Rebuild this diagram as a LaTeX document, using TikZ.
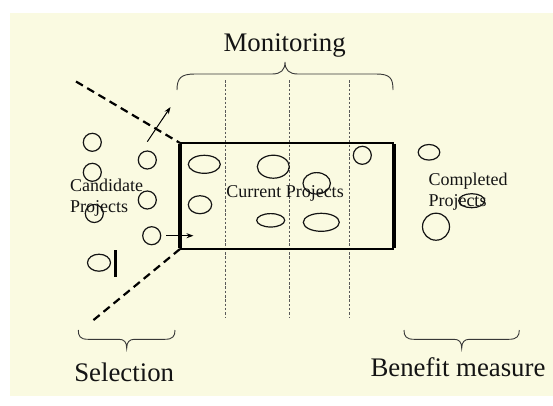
\documentclass[tikz,border=0pt]{standalone}
\usepackage{fontspec}
\setmainfont{Liberation Serif}
\usetikzlibrary{arrows.meta}
\definecolor{cream}{RGB}{250,250,225}
\definecolor{ink}{RGB}{20,20,20}
\tikzset{
  proj/.style={draw=ink, line width=1.2pt},
  bigtxt/.style={inner sep=0pt, text=ink, font=\fontsize{26.8}{30}\selectfont},
  smalltxt/.style={inner sep=0pt, text=ink, font=\fontsize{18}{20.5}\selectfont},
  bracestyle/.style={draw=ink!85, line width=0.9pt},
  bound/.style={draw=black, line width=2.2pt, dash pattern=on 8pt off 5pt},
  phase/.style={draw=black!65, line width=0.8pt, dash pattern=on 2.5pt off 1.8pt},
  arr/.style={draw=black, line width=1pt, -{Stealth[length=7pt,width=5pt]}}
}
\begin{document}
\begin{tikzpicture}[x=1pt,y=-1pt]
\useasboundingbox (0,0) rectangle (553,405);
\fill[white] (0,0) rectangle (553,405);
\fill[cream] (10,13) rectangle (553,396);

% phase separators
\coordinate (p1t) at (225.7,80); \coordinate (p1b) at (225.7,317);
\coordinate (p2t) at (289.3,80); \coordinate (p2b) at (289.3,317);
\coordinate (p3t) at (349.5,80); \coordinate (p3b) at (349.5,317);
\draw[phase] (p1t) -- (p1b);
\draw[phase] (p2t) -- (p2b);
\draw[phase] (p3t) -- (p3b);

% current projects box
\coordinate (tl) at (180,143);
\coordinate (tr) at (394,143);
\coordinate (bl) at (180,249);
\coordinate (br) at (394,249);
\draw[black, line width=2pt] (tl) -- (tr) (bl) -- (br);
\draw[black, line width=4pt] ([yshift=-1pt]tl) -- ([yshift=1pt]bl);
\draw[black, line width=4pt] ([yshift=-1pt]tr) -- ([yshift=1pt]br);

% selection boundary
\coordinate (ustart) at (76,81.5);
\coordinate (lend) at (92.7,320.7);
\draw[bound] (ustart) -- (tl);
\draw[bound] (bl) -- (lend);

% candidate projects
\draw[proj] (92.3,142.3) circle[radius=9pt];
\draw[proj] (92.3,172.3) circle[radius=9pt];
\draw[proj] (147.3,160) circle[radius=9pt];
\draw[proj] (147.3,200) circle[radius=9pt];
\draw[proj] (94.3,213.5) circle[radius=9pt];
\draw[proj] (151.7,235.7) circle[radius=9pt];
\draw[proj] (99,262.7) ellipse[x radius=11.5pt, y radius=8.5pt];
\coordinate (bart) at (115.3,250); \coordinate (barb) at (115.3,277);
\draw[black, line width=3.2pt] (bart) -- (barb);
\node[smalltxt, anchor=base west] (cand1) at (70,191.7) {Candidate};
\node[smalltxt, anchor=base west] (cand2) at (70,212.7) {Projects};

% arrows
\coordinate (a1s) at (147.3,141.7); \coordinate (a1e) at (170.5,107);
\draw[arr] (a1s) -- (a1e);
\coordinate (a2s) at (166,235.7); \coordinate (a2e) at (193.5,235.7);
\draw[arr] (a2s) -- (a2e);

% current projects
\draw[proj] (204.3,164.3) ellipse[x radius=16pt, y radius=9pt];
\draw[proj] (273.3,166.7) ellipse[x radius=16pt, y radius=11.5pt];
\draw[proj] (362.3,155.3) circle[radius=9pt];
\draw[proj] (316.7,183.3) ellipse[x radius=13.7pt, y radius=10.7pt];
\draw[proj] (200,204.7) ellipse[x radius=11.7pt, y radius=9pt];
\draw[proj] (270.7,220.3) ellipse[x radius=14pt, y radius=6.7pt];
\draw[proj] (321.3,222.3) ellipse[x radius=18pt, y radius=9pt];
\node[smalltxt, anchor=base] (cur) at (285,197.7) {Current Projects};

% completed projects
\draw[proj] (429,152.3) ellipse[x radius=10.8pt, y radius=7.8pt];
\draw[proj] (471.7,200.7) ellipse[x radius=13pt, y radius=7pt];
\draw[proj] (436,226.7) circle[radius=13.5pt];
\node[smalltxt, anchor=base west] (comp1) at (428.3,185.7) {Completed};
\node[smalltxt, anchor=base west] (comp2) at (428.3,206) {Projects};

% braces
\draw[bracestyle] (177,90) .. controls (177,78) and (181,74) .. (195,74)
  -- (272,74) .. controls (281,74) and (285,70) .. (285,62)
  .. controls (285,70) and (289,74) .. (298,74)
  -- (376,74) .. controls (390,74) and (393,78) .. (393,90);
\draw[bracestyle] (78.3,330) .. controls (78.3,336) and (80,339.3) .. (88,339.3)
  -- (119,339.3) .. controls (124,339.3) and (126.7,342) .. (126.7,348.3)
  .. controls (126.7,342) and (129.4,339.3) .. (134.4,339.3)
  -- (165,339.3) .. controls (173,339.3) and (175,336) .. (175,330);
\draw[bracestyle] (404,330) .. controls (404,336) and (406,339.3) .. (414,339.3)
  -- (454,339.3) .. controls (459,339.3) and (461.7,342) .. (461.7,348.3)
  .. controls (461.7,342) and (464.4,339.3) .. (469.4,339.3)
  -- (509,339.3) .. controls (517,339.3) and (519.3,336) .. (519.3,330);

% phase labels
\node[bigtxt, anchor=base] (mon) at (284.7,51.7) {Monitoring};
\node[bigtxt, anchor=base] (sel) at (124.2,381) {Selection};
\node[bigtxt, anchor=base] (ben) at (458,376) {Benefit measure};
\end{tikzpicture}
\end{document}
